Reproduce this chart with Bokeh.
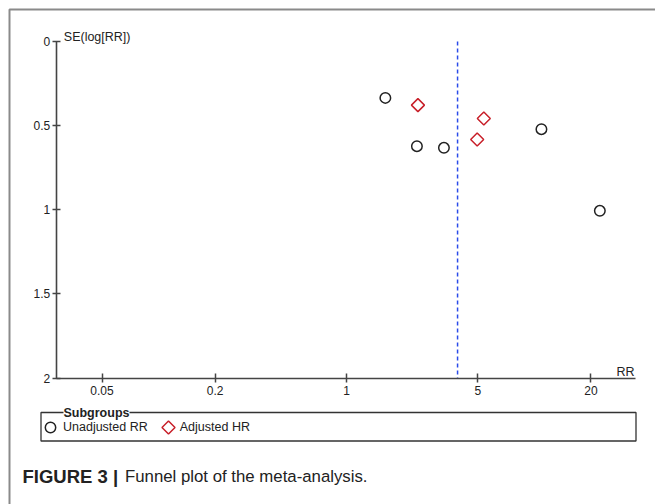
import math
from bokeh.plotting import figure
from bokeh.models import (Range1d, FixedTicker, Label, BoxAnnotation, Legend, LegendItem, ColumnDataSource)
from bokeh.embed import file_html
from bokeh.resources import INLINE

# ---- data ----
unadj_rr = [1.61, 2.37, 3.30, 10.9, 22.3]
unadj_se = [0.335, 0.622, 0.632, 0.521, 1.006]
adj_hr = [2.40, 5.38, 4.96]
adj_se = [0.378, 0.458, 0.582]
pooled_rr = [3.9]
x_ticks = [0.05, 0.2, 1, 5, 20]
x_tick_labels = ["0.05", "0.2", "1", "5", "20"]
y_ticks = [0, 0.5, 1, 1.5, 2]
y_tick_labels = ["0", "0.5", "1", "1.5", "2"]
series_names = ["Unadjusted RR", "Adjusted HR"]

FONT = "Liberation Sans"
W, H = 655, 504

# layout: pixel mapping of the plotting area (frame fills the canvas, axes fixed inside)
X_PX_AT_1 = 346.0      # px where RR = 1
PX_PER_DECADE = 187.9
Y_PX_AT_0 = 41.0
PX_PER_SE = 168.3


def px_to_x(px):
    return 10 ** ((px - X_PX_AT_1) / PX_PER_DECADE)


def px_to_y(py):
    return (py - Y_PX_AT_0) / PX_PER_SE


p = figure(width=W, height=H, x_axis_type="log",
           x_range=Range1d(px_to_x(0), px_to_x(W)), y_range=Range1d(px_to_y(H), px_to_y(0)),
           output_backend="svg", toolbar_location=None,
           min_border_left=0, min_border_right=0, min_border_top=0, min_border_bottom=0)
p.outline_line_color = None
p.xgrid.visible = False
p.ygrid.visible = False
p.background_fill_color = "white"
p.border_fill_color = "white"

axis_color = "#444444"
for ax in (p.xaxis[0], p.yaxis[0]):
    ax.axis_line_color = axis_color
    ax.axis_line_width = 1.6
    ax.major_tick_line_color = axis_color
    ax.major_tick_line_width = 1.5
    ax.minor_tick_line_color = None
    ax.major_label_text_font = FONT
    ax.major_label_text_font_size = "12px"
    ax.major_label_text_color = "#222222"

p.xaxis.fixed_location = y_ticks[-1]
p.xaxis.bounds = (px_to_x(55.7), px_to_x(635))
p.xaxis.ticker = FixedTicker(ticks=x_ticks)
p.xaxis.major_label_overrides = {t: l for t, l in zip(x_ticks, x_tick_labels)}
p.xaxis.major_tick_in = 5
p.xaxis.major_tick_out = 4
p.xaxis.major_label_standoff = 4

p.yaxis.fixed_location = px_to_x(55.7)
p.yaxis.bounds = (y_ticks[0], y_ticks[-1])
p.yaxis.ticker = FixedTicker(ticks=y_ticks)
p.yaxis.major_label_overrides = {t: l for t, l in zip(y_ticks, y_tick_labels)}
p.yaxis.major_tick_in = 4
p.yaxis.major_tick_out = 4
p.yaxis.major_label_standoff = 2

# pooled estimate line
src = ColumnDataSource(dict(x0=pooled_rr, y0=[y_ticks[0]], x1=pooled_rr, y1=[y_ticks[-1]]))
p.segment(x0="x0", y0="y0", x1="x1", y1="y1", source=src,
          line_color="#2a4bea", line_width=1.5, line_dash="4 3")

circle_style = dict(marker="circle", size=10.5, fill_color=None, line_color="#222222", line_width=1.5)
diamond_style = dict(marker="square", angle=math.pi / 4, size=9.2, fill_color=None,
                     line_color="#c8202a", line_width=1.5)

r_c = p.scatter(unadj_rr, unadj_se, **circle_style)
r_d = p.scatter(adj_hr, adj_se, **diamond_style)

# outer frame lines (top and left)
p.add_layout(BoxAnnotation(left=9, right=3000, top=9, bottom=3000,
                           left_units="canvas", right_units="canvas",
                           top_units="canvas", bottom_units="canvas",
                           fill_alpha=0, line_color="#8a8a8a", line_alpha=1.0, line_width=2))

# axis titles
p.add_layout(Label(x=63.3, y=36.3, x_units="canvas", y_units="canvas", text="SE(log[RR])",
                   text_font=FONT, text_font_size="12.5px", text_color="#222222",
                   text_baseline="middle"))
p.add_layout(Label(x=634, y=371.3, x_units="canvas", y_units="canvas", text="RR",
                   text_font=FONT, text_font_size="12.5px", text_color="#222222",
                   text_align="right", text_baseline="middle"))

# legend box
p.add_layout(BoxAnnotation(left=40.5, right=635.5, top=412, bottom=440.5,
                           left_units="canvas", right_units="canvas",
                           top_units="canvas", bottom_units="canvas",
                           fill_alpha=0, line_color="#333333", line_alpha=1.0, line_width=1.3))
p.add_layout(Label(x=63, y=412.5, x_units="canvas", y_units="canvas", text="Subgroups",
                   text_font=FONT, text_font_size="12.5px", text_font_style="bold",
                   text_color="#222222", text_baseline="middle",
                   background_fill_color="white"))

# legend: the diamond symbol is drawn as a rotated square (legend glyphs ignore rotation)
r_dummy = p.scatter([], [], marker="square", size=1, fill_alpha=0, line_alpha=0)
legend = Legend(items=[LegendItem(label=series_names[0], renderers=[r_c]),
                       LegendItem(label=series_names[1], renderers=[r_dummy])],
                location=(37, 64), orientation="horizontal",
                glyph_width=26, glyph_height=26, label_standoff=0, spacing=6,
                padding=0, margin=0, border_line_color=None, background_fill_alpha=0,
                label_text_font=FONT, label_text_font_size="12.5px", label_text_color="#222222")
p.add_layout(legend, "center")
p.scatter([px_to_x(168)], [px_to_y(427)], **diamond_style)

# caption
p.add_layout(Label(x=22, y=476, x_units="canvas", y_units="canvas", text="FIGURE 3 |",
                   text_font=FONT, text_font_size="18.5px", text_font_style="bold",
                   text_color="#222222", text_baseline="middle"))
p.add_layout(Label(x=124.5, y=476, x_units="canvas", y_units="canvas",
                   text="Funnel plot of the meta-analysis.",
                   text_font=FONT, text_font_size="16.8px",
                   text_color="#222222", text_baseline="middle"))

open("out.html", "w").write(file_html(p, INLINE))
